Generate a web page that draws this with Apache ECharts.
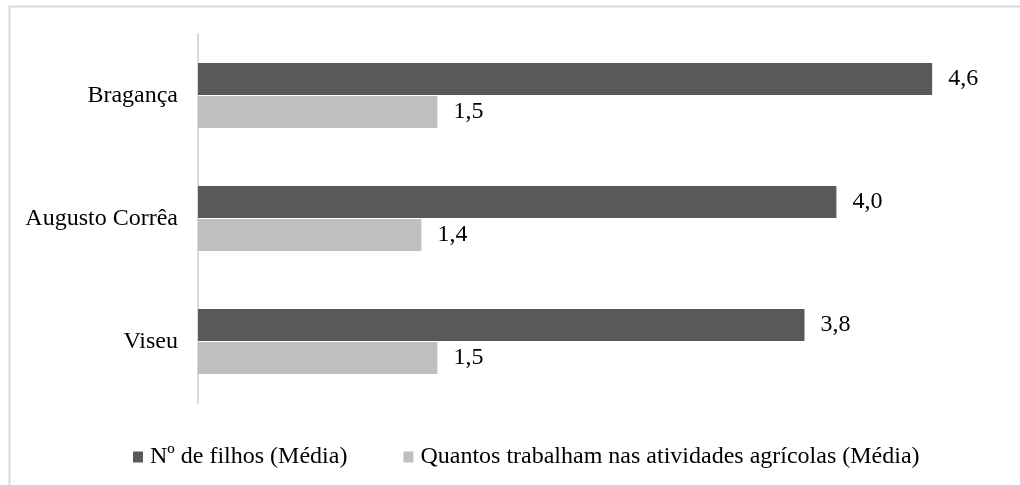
<!DOCTYPE html>
<html>
<head>
<meta charset="utf-8">
<script src="https://cdn.jsdelivr.net/npm/echarts@6/dist/echarts.min.js"></script>
<style>
html,body{margin:0;padding:0;background:#fff;}
#c{width:1020px;height:485px;}
</style>
</head>
<body>
<div id="c"></div>
<script>
var categories = ['Bragança', 'Augusto Corrêa', 'Viseu'];
var seriesNames = ['Nº de filhos (Média)', 'Quantos trabalham nas atividades agrícolas (Média)'];
var filhos = [4.6, 4.0, 3.8];
var trabalham = [1.5, 1.4, 1.5];

var FONT = '"Liberation Serif", "Times New Roman", serif';
var chart = echarts.init(document.getElementById('c'), null, {renderer: 'canvas'});
function fmt(p) { return p.value.toFixed(1).replace('.', ','); }
chart.setOption({
  animation: false,
  textStyle: {fontFamily: FONT},
  graphic: [{
    type: 'rect', left: 7, top: 4, silent: true,
    shape: {width: 1100, height: 600},
    style: {fill: 'none', stroke: '#d9d9d9', lineWidth: 2}
  }],
  grid: {left: 198, top: 34, width: 798, height: 369, containLabel: false},
  xAxis: {
    type: 'value', min: 0, max: 5, show: false
  },
  yAxis: {
    type: 'category', data: categories, inverse: true,
    axisLine: {show: true, lineStyle: {color: '#d9d9d9', width: 2}},
    axisTick: {show: false},
    axisLabel: {color: '#000', fontSize: 24, fontFamily: FONT, margin: 20}
  },
  legend: {
    left: 128, top: 440, itemWidth: 10, itemHeight: 11, itemGap: 56,
    icon: 'rect',
    textStyle: {color: '#000', fontSize: 24, fontFamily: FONT, padding: [0, 0, 0, 2]},
    data: seriesNames
  },
  series: [{
    name: seriesNames[0], type: 'bar', data: filhos,
    barWidth: 32, barGap: '3%',
    itemStyle: {color: '#595959'},
    label: {show: true, position: 'right', distance: 16, color: '#000', fontSize: 24, fontFamily: FONT, formatter: fmt}
  }, {
    name: seriesNames[1], type: 'bar', data: trabalham,
    barWidth: 32, barGap: '3%',
    itemStyle: {color: '#bfbfbf'},
    label: {show: true, position: 'right', distance: 16, color: '#000', fontSize: 24, fontFamily: FONT, formatter: fmt}
  }]
});
</script>
</body>
</html>
